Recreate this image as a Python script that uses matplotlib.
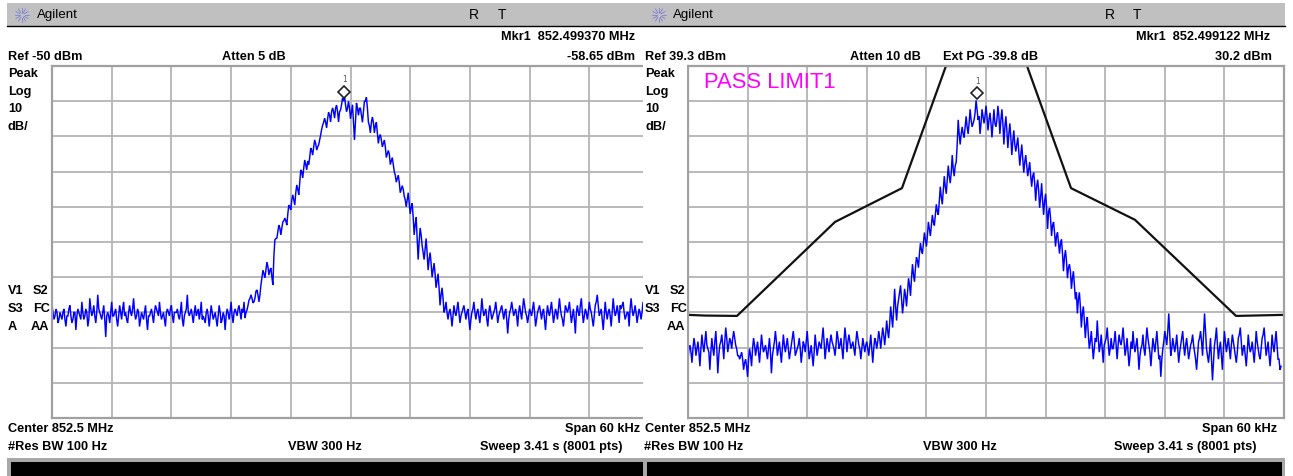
import numpy as np
import matplotlib
matplotlib.use("Agg")
import matplotlib.pyplot as plt

plt.rcParams['font.family'] = ['Liberation Sans', 'DejaVu Sans']

W, H = 1293, 476
BLUE = '#0000ff'
GRID = '#b4b4b4'

SPAN = (-30, 30)
STEP_KHZ = 0.1
left_ref, right_ref = -50.0, 39.3
divisions = 10
db_per_div = 10

left_floor_a = [-118,-122,-119,-123,-120,-122,-119,-124,-121,-118,-123,-120,-125,-119,-121,-117,-122,-119,-124,-116,
    -121,-118,-123,-115,-120,-122,-118,-127,-120,-123,-117,-121,-119,-124,-118,-122,-117,-120,-123,-118,
    -121,-116,-122,-119,-124,-120,-122,-118,-125,-121,-119,-123,-118,-120,-117,-122,-120,-124,-119,-121,
    -118,-123,-120,-119,-122,-117,-124,-120,-115,-121,-119,-123,-118,-120,-122,-117,-121,-123,-119,-124,
    -118,-122,-120,-124,-118,-123,-120,-125,-119,-122,-117,-123,-119,-121,-118,-122,-120]
left_rise = [-121.6,-119.3,-116.5,-115,-117.3,-115.9,-113.6,-117,-112.2,-108,-110.2,-105.7,-109.4,-107.4,-112.2,
    -99.4,-98.9,-95.2,-98,-94.3,-93.2,-95.2,-89.5,-90.9,-86.6,-89.5,-83.8,-86.6,-79.5,-81.8,-76.7,-79.5,-78.1,
    -73.3,-75.3,-71,-73.9,-72.4,-69.6,-66.8,-64.8,-67.6,-63.1,-65.9,-61.9,-64.8,-61.1,-65.9,-62.5,-59.1]
left_fall = [-58.6,-63,-60,-65,-61,-71,-60.5,-64,-62,-66,-60,-58.9,-66,-69,-64.5,-69,-66,-72,-69.5,-73,-71,-76,-74,
    -78,-76,-80,-83,-81,-86,-84,-87,-90,-86,-92,-89,-98,-93,-105,-96,-101,-105,-99,-108,-103,-110,-106,-113,-109,
    -118,-113,-120]
left_floor_b = [-117,-122,-119,-124,-118,-121,-117,-123,-120,-118,-122,-119,-125,-120,-117,-122,-119,-123,-116,-121,
    -119,-124,-118,-122,-120,-117,-123,-120,-118,-122,-119,-126,-120,-117,-121,-119,-124,-118,-122,-116,
    -120,-123,-119,-121,-117,-124,-120,-118,-122,-119,-125,-118,-121,-117,-123,-119,-122,-116,-121,-124,
    -118,-120,-117,-123,-119,-126,-118,-121,-116,-123,-119,-122,-117,-120,-124,-118,-115,-121,-119,-125,
    -117,-122,-119,-124,-116,-121,-118,-123,-119,-117,-122,-120,-124,-116,-121,-118,-123,-119,-122,-117,-121,-124]

left_detail_a = [-120,-121,-120,-122,-121,-120,-122,-121,-119,-121,-122,-120,-121,-120,-122,-120,-121,-120,-122,-119,
    -120,-121,-120,-119,-121,-120,-122,-121,-121,-120,-121,-120,-122,-121,-120,-119,-121,-122,-120,-120,
    -119,-120,-121,-120,-122,-121,-120,-122,-121,-120,-121,-120,-119,-121,-120,-121,-122,-120,-120,-119,
    -121,-120,-120,-121,-120,-122,-121,-119,-120,-120,-121,-120,-121,-119,-120,-122,-122,-120,-121,-121,
    -120,-121,-122,-121,-120,-122,-121,-121,-120,-120,-121,-120,-120,-119,-120,-119,-117]
left_detail_rise = [-120,-118,-116,-116,-117,-114,-115,-115,-110,-109,-108,-107,-108,-110,-104,-99,-97,-96,-96,-94,-94,-92,
    -90,-88,-88,-86,-85,-83,-80,-79,-78,-77,-76,-74,-73,-72,-73,-71,-68,-66,-66,-65,-64,-63,-63,-62,-63,-63,-61,-60]
left_detail_fall = [-61,-62,-62,-63,-66,-66,-62,-62,-64,-63,-60,-62,-67,-66,-66,-67,-69,-70,-71,-72,-73,-75,-75,-77,-78,-81,
    -82,-83,-85,-85,-88,-88,-89,-90,-93,-95,-99,-100,-98,-103,-102,-103,-105,-106,-108,-109,-111,-113,-115,-116,-119]
left_detail_b = [-120,-120,-121,-121,-120,-119,-120,-121,-119,-120,-120,-122,-122,-119,-120,-120,-121,-120,-119,-120,
    -122,-120,-120,-121,-119,-120,-121,-119,-120,-120,-122,-122,-119,-119,-120,-121,-120,-120,-119,-118,
    -121,-121,-120,-119,-120,-122,-119,-120,-120,-122,-121,-120,-119,-120,-121,-120,-119,-119,-122,-121,
    -119,-119,-120,-121,-122,-120,-120,-118,-120,-121,-120,-120,-119,-122,-121,-117,-118,-120,-122,-121,
    -120,-120,-121,-120,-119,-120,-120,-118,-118,-120,-121,-120,-119,-119,-120,-120,-121,-120,-120,-119,-122,-120]

right_floor_a = [-44,-40,-45,-38,-43,-39,-46,-37,-42,-36,-41,-47,-38,-43,-36,-48,-40,-37,-44,-35,
    -42,-38,-41,-36,-40,-43,-44,-42,-47,-44,-49,-41,-46,-38,-43,-39,-45,-37,-42,-40,
    -44,-38,-48,-41,-36,-43,-39,-45,-37,-42,-38,-44,-40,-36,-43,-41,-38,-45,-39,-42,
    -36,-44,-40,-46,-37,-43,-39,-41,-35,-44,-38,-42,-37,-40,-43,-36,-41,-38,-44,-35,-42,-37,-41,-39,-43,-36]
right_rise = [-40,-44,-38,-42,-39,-43,-37,-45,-38,-41,-36,-41,-35,-40,-33,-38,-29,-35,-24,-33,
    -27,-23,-31,-24,-29,-21,-26,-17,-22,-15,-18,-11,-14,-8,-12,-5,-9,-3,-6,0,
    -3,5,0,8,3,11,6,14,8,12,24,17,22,19,25,20,27,22,24,29.5]
right_fall = [24,20,27,23,28,21,26,19,27,22,28,20,27,17,25,16,23,14,21,15,
    19,11,17,9,14,8,12,5,9,1,7,-1,6,-3,3,-7,-1,-9,-5,-12,
    -8,-14,-10,-19,-13,-21,-17,-24,-19,-27,-31,-25,-35,-29,-38,-32]
right_floor_b = [-41,-36,-44,-38,-33,-42,-37,-45,-39,-35,-43,-38,-41,-36,-44,-37,-40,-35,-43,-38,
    -46,-39,-36,-42,-38,-47,-41,-37,-43,-35,-40,-46,-38,-42,-36,-44,-49,-41,-36,-40,
    -31,-43,-38,-42,-37,-45,-40,-36,-43,-38,-44,-40,-37,-42,-47,-39,-36,-43,-31,-41,
    -45,-38,-50,-40,-35,-44,-39,-47,-36,-42,-38,-44,-37,-41,-45,-38,-35,-43,-40,-46,
    -37,-42,-39,-45,-36,-41,-44,-38,-35,-43,-39,-46,-37,-42,-36,-44,-47]

right_detail_a = [-41,-42,-41,-40,-41,-42,-41,-40,-39,-40,-42,-42,-41,-39,-41,-43,-39,-40,-39,-38,
    -40,-39,-38,-38,-41,-43,-43,-44,-45,-46,-44,-43,-41,-40,-41,-42,-41,-40,-41,-42,
    -41,-42,-43,-39,-39,-41,-42,-41,-40,-40,-41,-42,-38,-39,-42,-40,-41,-42,-40,-39,
    -40,-42,-43,-42,-40,-41,-40,-38,-39,-41,-40,-39,-39,-41,-40,-38,-40,-41,-39,-38,-39,-39,-40,-41,-39,-38]
right_detail_rise = [-41,-41,-40,-40,-41,-40,-41,-41,-39,-39,-38,-38,-37,-37,-36,-34,-32,-30,-29,-29,
    -25,-27,-28,-26,-25,-23,-21,-20,-18,-16,-14,-13,-11,-10,-9,-7,-6,-5,-3,-2,
    1,2,4,5,7,8,9,10,11,17,20,20,20,22,22,23,24,23,26,27]
right_detail_fall = [25,23,25,25,25,24,23,23,23,24,25,24,23,22,21,20,19,18,17,17,
    15,14,13,12,11,10,8,8,6,5,4,2,1,1,-1,-2,-4,-6,-8,-9,
    -11,-11,-14,-15,-16,-18,-19,-21,-23,-25,-27,-29,-31,-33,-34,-37]
right_detail_b = [-39,-40,-41,-39,-38,-40,-41,-40,-38,-39,-41,-41,-39,-40,-40,-39,-38,-39,-41,-42,
    -43,-41,-40,-40,-42,-43,-40,-41,-39,-38,-42,-42,-40,-39,-40,-43,-44,-39,-38,-36,
    -37,-41,-40,-40,-41,-42,-38,-40,-40,-41,-42,-39,-40,-44,-43,-38,-39,-37,-36,-43,
    -42,-44,-45,-38,-40,-41,-43,-41,-39,-40,-41,-40,-39,-43,-42,-37,-39,-41,-43,-42,
    -40,-41,-42,-41,-39,-43,-41,-37,-39,-41,-43,-42,-40,-39,-40,-44,-46]

limit_freq = [-30,-28.3,-25.07,-15.2,-8.46,-4.03,4.13,8.56,15,25.17,30]
limit_level = [-31.4,-31.6,-31.7,-5,4.6,39.3,39.3,4.6,-4.4,-31.7,-31.4]

left_base = left_floor_a + left_rise + left_fall + left_floor_b
left_detail = left_detail_a + left_detail_rise + left_detail_fall + left_detail_b
right_base = right_floor_a + right_rise + right_fall + right_floor_b
right_detail = right_detail_a + right_detail_rise + right_detail_fall + right_detail_b

left_marker = (-0.63, -58.65)
right_marker = (-0.878, 30.2)

def merge(a, b):
    out = []
    for p, q in zip(a, b):
        out += [p, q]
    return out

fig = plt.figure(figsize=(W/100, H/100), dpi=100)
bg = fig.add_axes([0, 0, 1, 1])
bg.set_xlim(0, W); bg.set_ylim(H, 0); bg.axis('off')
bg.set_zorder(5)

# instrument chrome
bg.fill_between([643, 687], 60, 421, color='white', lw=0)
bg.fill_between([7, 1285], 3, 25.5, color='#c0c0c0', lw=0)
bg.plot([7, 1285], [26, 26], color='black', lw=1)
bg.fill_between([7, 1285], 458, 476, color='#a8a8a8', lw=0)
for x0, x1 in [(11, 643), (647, 1282)]:
    bg.fill_between([x0, x1], 462, 476, color='black', lw=0)

# agilent logos
for cx in (22, 659):
    for a in np.arange(0, 360, 30):
        t = np.radians(a)
        bg.plot([cx+2.5*np.cos(t), cx+7*np.cos(t)], [15+2.5*np.sin(t), 15+7*np.sin(t)],
                color='#5050e8', lw=0.5, alpha=0.7)

def T(x, y, s, ha='left', weight='bold', size=9.2, color='black'):
    bg.text(x, y, s, ha=ha, va='center', fontweight=weight, fontsize=size, color=color)

for x in (37, 673):
    T(x, 15, 'Agilent', weight='normal', size=9.6)
for x in (469, 498, 1105, 1133):
    T(x, 15, {469:'R',1105:'R',498:'T',1133:'T'}[x], weight='normal', size=10)

T(635, 37, 'Mkr1  852.499370 MHz', ha='right')
T(1270, 37, 'Mkr1  852.499122 MHz', ha='right')
T(8, 57, 'Ref -50 dBm'); T(222, 57, 'Atten 5 dB'); T(635, 57, '-58.65 dBm', ha='right')
T(645, 57, 'Ref 39.3 dBm'); T(850, 57, 'Atten 10 dB'); T(943, 57, 'Ext PG -39.8 dB'); T(1272, 57, '30.2 dBm', ha='right')
for x in (8, 645):
    for y, s in zip((74, 92, 109, 127), ('Peak', 'Log', '10', 'dB/')):
        T(x, y, s)
    T(x, 291, 'V1'); T(x+25, 291, 'S2')
    T(x, 309, 'S3'); T(x+25, 309, 'FC')
T(8, 327, 'A'); T(31, 327, 'AA'); T(667, 327, 'AA')
T(8, 429, 'Center 852.5 MHz'); T(640, 429, 'Span 60 kHz', ha='right')
T(8, 447, '#Res BW 100 Hz'); T(288, 447, 'VBW 300 Hz'); T(622, 447, 'Sweep 3.41 s (8001 pts)', ha='right')
T(645, 429, 'Center 852.5 MHz'); T(1277, 429, 'Span 60 kHz', ha='right')
T(644, 447, '#Res BW 100 Hz'); T(923, 447, 'VBW 300 Hz'); T(1257, 447, 'Sweep 3.41 s (8001 pts)', ha='right')
T(704, 83, 'PASS LIMIT1', weight='normal', size=15.8, color='#ff00ff')

def panel(x0, x1, ref, trace, marker, limit=None):
    ax = fig.add_axes([x0/W, 1-418/H, (x1-x0)/W, (418-66)/H])
    ax.set_xlim(*SPAN)
    ax.set_ylim(ref-divisions*db_per_div, ref)
    ax.set_xticks(np.linspace(SPAN[0], SPAN[1], divisions+1))
    ax.set_yticks(np.linspace(ref-divisions*db_per_div, ref, divisions+1))
    ax.tick_params(length=0, labelbottom=False, labelleft=False)
    ax.grid(True, color=GRID, lw=1.3)
    ax.set_axisbelow(True)
    for s in ax.spines.values():
        s.set_color('#a0a0a0'); s.set_linewidth(1.6)
    f = SPAN[0] + STEP_KHZ*np.arange(len(trace))
    ax.plot(f, trace, color=BLUE, lw=1.05, solid_joinstyle='miter')
    if limit is not None:
        ax.plot(limit[0], limit[1], color='#111111', lw=1.6)
    ax.plot([marker[0]], [marker[1]+1.3], marker='D', ms=6, mfc='white', mec='#222222', mew=1.2, clip_on=False)
    ax.text(marker[0], marker[1]+4.7, '1', ha='center', va='center', fontsize=5.5, color='#555555', family='DejaVu Sans')
    return ax

panel(52, 649, left_ref, merge(left_base, left_detail), left_marker)
panel(688, 1284, right_ref, merge(right_base, right_detail), right_marker, (limit_freq, limit_level))

fig.savefig('out.png', dpi=100)
